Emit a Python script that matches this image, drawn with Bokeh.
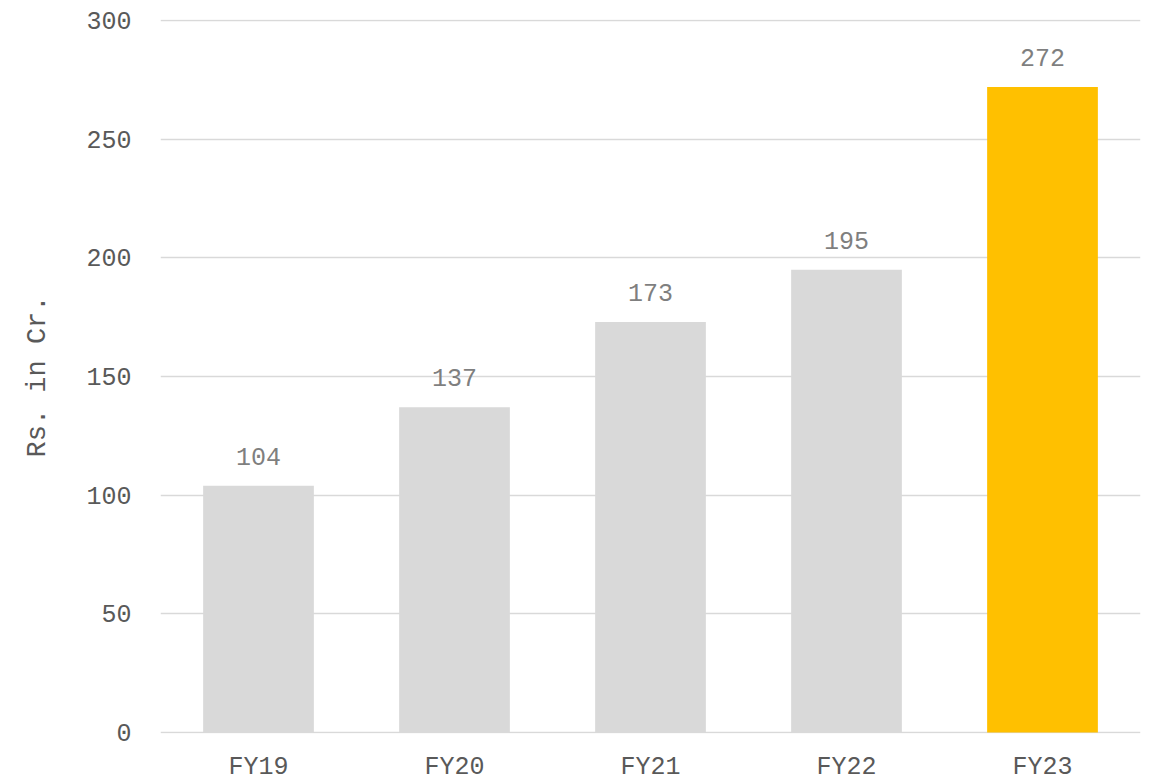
from bokeh.plotting import figure
from bokeh.models import ColumnDataSource, Range1d, FixedTicker
from bokeh.core.properties import value
from bokeh.embed import file_html
from bokeh.resources import INLINE

categories = ["FY19", "FY20", "FY21", "FY22", "FY23"]
values = [104, 137, 173, 195, 272]
colors = ["#d9d9d9", "#d9d9d9", "#d9d9d9", "#d9d9d9", "#ffc000"]
labels = [str(v) for v in values]
y_ticks = [0, 50, 100, 150, 200, 250, 300]

FONT = "Liberation Mono"

src = ColumnDataSource(dict(cat=categories, val=values, col=colors, lab=labels))

p = figure(x_range=categories, y_range=Range1d(-0.4, 300.4), width=1155, height=784,
           output_backend="svg", toolbar_location=None,
           min_border_left=160, min_border_right=15, min_border_top=19, min_border_bottom=51)
p.outline_line_color = None
p.background_fill_color = "white"
p.border_fill_color = "white"

p.vbar(x="cat", top="val", bottom=0, width=0.565, color="col", source=src, line_color=None)
p.text(x="cat", y="val", text="lab", source=src, text_align="center", text_baseline="bottom",
       y_offset=-21, text_color="#7f7f7f", text_font=value(FONT), text_font_size="25px")

p.xgrid.grid_line_color = None
p.ygrid.grid_line_color = "#d9d9d9"
p.ygrid.grid_line_width = 1.5
p.yaxis.ticker = FixedTicker(ticks=y_ticks)

for ax in (p.xaxis, p.yaxis):
    ax.axis_line_color = None
    ax.major_tick_line_color = None
    ax.minor_tick_line_color = None
    ax.major_label_text_font = FONT
    ax.major_label_text_font_size = "25px"
    ax.major_label_text_color = "#595959"

p.yaxis.major_label_standoff = 23
p.xaxis.major_label_standoff = 13
p.yaxis.axis_label = "Rs. in Cr."
p.yaxis.axis_label_text_font = FONT
p.yaxis.axis_label_text_font_style = "normal"
p.yaxis.axis_label_text_font_size = "27px"
p.yaxis.axis_label_text_color = "#595959"
p.yaxis.axis_label_standoff = 30

open("out.html", "w").write(file_html(p, INLINE))
